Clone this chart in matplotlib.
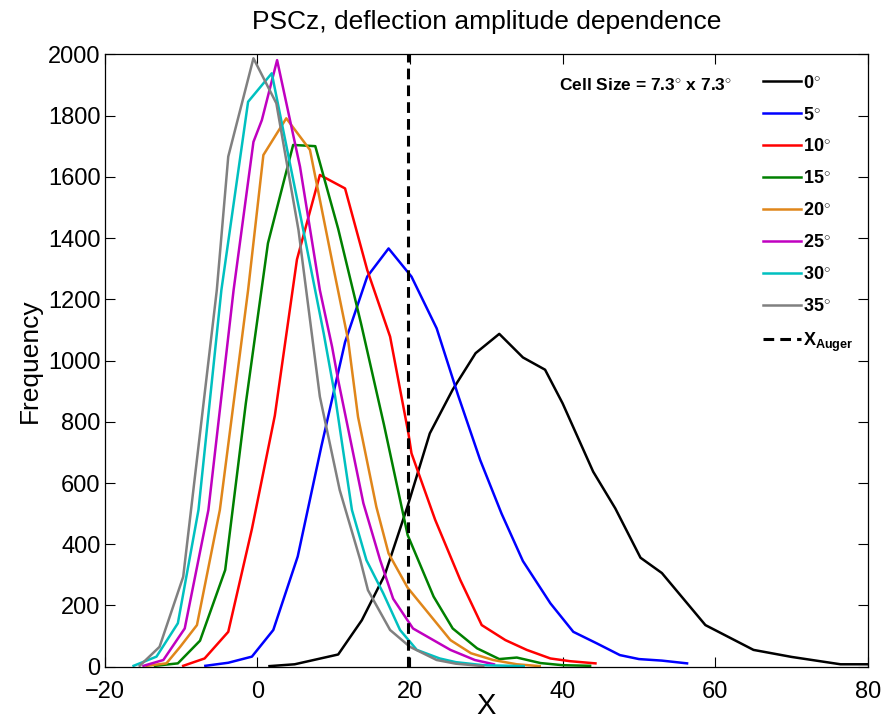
import matplotlib
matplotlib.use("Agg")
import matplotlib.pyplot as plt

plt.rcParams['font.family'] = ['Liberation Sans', 'DejaVu Sans']
plt.rcParams['mathtext.fontset'] = 'custom'
plt.rcParams['mathtext.rm'] = 'Liberation Sans'
plt.rcParams['mathtext.bf'] = 'Liberation Sans:bold'
plt.rcParams['mathtext.it'] = 'Liberation Sans:italic'

# ---------------- data ----------------
x_0 = [1.6, 4.9, 10.6, 13.7, 16.7, 19.7, 22.6, 25.6, 28.6, 31.7, 34.8, 37.7, 40.0, 44.0, 46.9, 50.2, 53.0, 58.7, 65.0, 70.0, 76.4, 80.0]
y_0 = [2, 8, 40, 152, 300, 525, 762, 905, 1024, 1087, 1010, 970, 860, 637, 517, 356, 306, 136, 55, 32, 8, 8]

x_5 = [-6.8, -3.8, -0.7, 2.1, 5.3, 8.4, 11.5, 14.4, 17.2, 20.2, 23.5, 26.3, 29.2, 32.0, 34.8, 38.4, 41.4, 44.5, 47.5, 50.0, 53.0, 56.3]
y_5 = [3, 13, 33, 120, 360, 720, 1060, 1274, 1366, 1274, 1105, 887, 675, 500, 345, 207, 114, 76, 38, 25, 20, 11]

x_10 = [-9.7, -6.9, -3.8, -0.7, 2.3, 5.2, 8.2, 11.5, 14.4, 17.4, 19.8, 20.2, 23.3, 26.6, 29.4, 32.5, 35.3, 38.4, 41.0, 44.3]
y_10 = [3, 27, 114, 450, 820, 1330, 1606, 1562, 1296, 1078, 762, 697, 480, 283, 136, 87, 55, 27, 18, 11]

x_15 = [-13.4, -10.4, -7.5, -4.2, -1.5, 1.4, 4.7, 7.6, 10.6, 13.6, 16.6, 19.7, 23.1, 25.6, 28.8, 31.7, 34.0, 37.1, 40.0, 43.6]
y_15 = [3, 11, 85, 316, 860, 1383, 1704, 1700, 1430, 1120, 790, 430, 229, 125, 60, 25, 30, 12, 5, 3]

x_20 = [-14.5, -11.9, -10.1, -7.9, -4.9, -1.2, 0.8, 3.8, 6.9, 10.0, 11.9, 13.2, 15.6, 17.2, 19.7, 23.5, 25.3, 28.0, 30.9, 34.0, 37.0]
y_20 = [3, 11, 65, 136, 512, 1230, 1671, 1791, 1688, 1300, 1067, 816, 522, 370, 258, 142, 87, 44, 22, 8, 2]

x_25 = [-14.9, -12.3, -9.5, -6.4, -3.1, -0.5, 0.6, 2.6, 5.6, 8.2, 9.8, 10.6, 13.9, 16.1, 17.8, 20.4, 25.3, 28.5, 31.0]
y_25 = [3, 22, 125, 512, 1230, 1714, 1785, 1981, 1633, 1230, 1045, 936, 534, 348, 222, 125, 55, 22, 8]

x_30 = [-16.2, -13.2, -10.4, -7.7, -4.7, -1.2, 1.9, 5.6, 8.7, 10.2, 12.4, 14.3, 16.5, 18.7, 20.9, 23.9, 26.0, 29.6, 34.9]
y_30 = [3, 33, 142, 512, 1230, 1845, 1938, 1480, 1089, 882, 512, 348, 240, 120, 55, 27, 15, 5, 2]

x_35 = [-15.4, -12.8, -9.7, -5.3, -3.8, -0.5, 2.5, 5.4, 8.2, 10.8, 13.5, 14.5, 17.4, 20.0, 23.5, 26.0, 29.6]
y_35 = [3, 65, 294, 1230, 1666, 1987, 1840, 1426, 882, 577, 348, 250, 120, 65, 22, 10, 2]

x_auger = 19.8

labels = ['0', '5', '10', '15', '20', '25', '30', '35']
series_x = [x_0, x_5, x_10, x_15, x_20, x_25, x_30, x_35]
series_y = [y_0, y_5, y_10, y_15, y_20, y_25, y_30, y_35]
colors = ['#000000', '#0000ff', '#ff0000', '#008000', '#e0861a', '#c000c0', '#00c0c0', '#808080']

xticks = [-20, 0, 20, 40, 60, 80]
yticks = [0, 200, 400, 600, 800, 1000, 1200, 1400, 1600, 1800, 2000]

# ---------------- figure ----------------
fig = plt.figure(figsize=(8.84, 7.27), dpi=100)
ax = fig.add_axes([0.1183, 0.0829, 0.8636, 0.8424])

handles = []
for xs, ys, c, lab in zip(series_x, series_y, colors, labels):
    h, = ax.plot(xs, ys, color=c, lw=1.8, label=lab + r'$^{\circ}$')
    handles.append(h)
hd, = ax.plot([x_auger, x_auger], [0, 2000], color='k', lw=2.2, ls=(0, (3.5, 2)),
              label=r'$\mathbf{X_{Auger}}$')
handles.append(hd)

ax.set_xlim(-20, 80)
ax.set_ylim(0, 2000)
ax.set_xticks(xticks)
ax.set_yticks(yticks)
ax.tick_params(direction='in', length=7, width=0.8, labelsize=17, top=True, right=True)
ax.tick_params(axis='x', pad=10)
ax.tick_params(axis='y', pad=3)
for s in ax.spines.values():
    s.set_linewidth(0.9)

ax.set_title('PSCz, deflection amplitude dependence', fontsize=19, pad=18)
ax.set_xlabel('X', fontsize=21, labelpad=-8)
ax.set_ylabel('Frequency', fontsize=19, labelpad=4)

leg = ax.legend(handles=handles, loc='upper left', bbox_to_anchor=(0.862, 0.967),
                frameon=False, borderpad=0, borderaxespad=0, handlelength=2.1,
                handletextpad=0.12, labelspacing=0.83,
                prop={'weight': 'bold', 'size': 13})

ax.text(0.595, 0.950, r'Cell Size = 7.3$^{\circ}$ x 7.3$^{\circ}$', transform=ax.transAxes,
        fontsize=12.5, fontweight='bold', va='center', ha='left')

fig.savefig('out.png', dpi=100)
